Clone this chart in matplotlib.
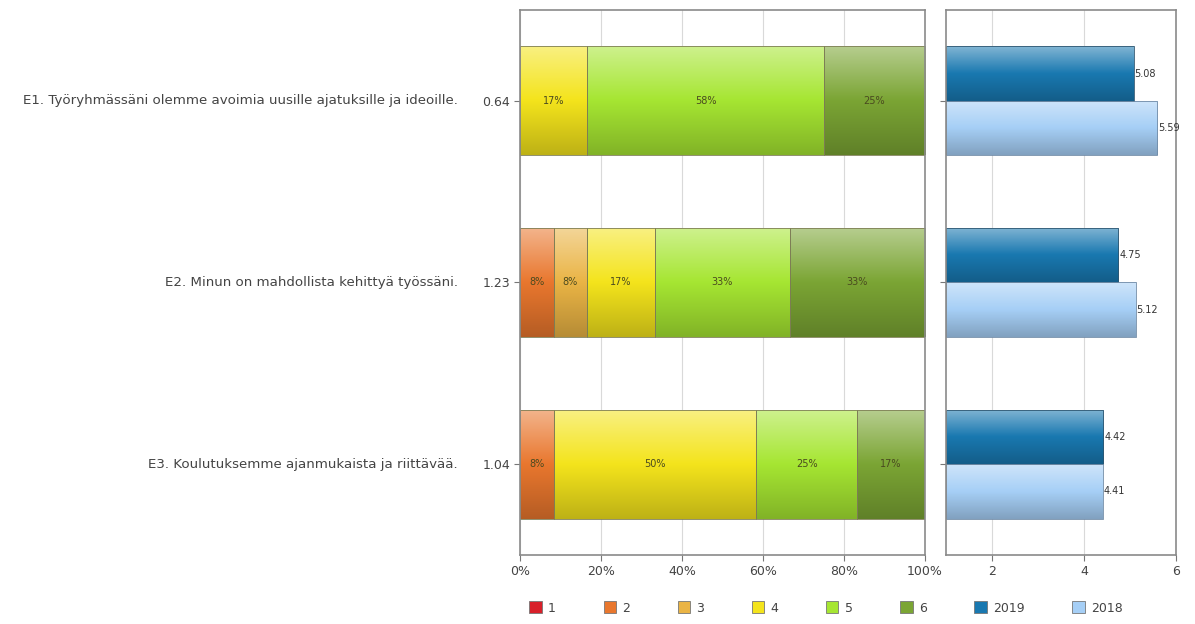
import numpy as np
import matplotlib
matplotlib.use("Agg")
import matplotlib.pyplot as plt
from matplotlib.colors import to_rgb
from matplotlib.patches import Patch
from matplotlib.transforms import blended_transform_factory

plt.rcParams["font.family"] = ["DejaVu Sans"]

# Survey questions and answer counts (12 respondents, scale 1..6)
questions = [
    "E1. Työryhmässäni olemme avoimia uusille ajatuksille ja ideoille.",
    "E2. Minun on mahdollista kehittyä työssäni.",
    "E3. Koulutuksemme ajanmukaista ja riittävää.",
]
std_labels = ["0.64", "1.23", "1.04"]
scale_labels = ["1", "2", "3", "4", "5", "6"]
counts_e1 = [0, 0, 0, 2, 7, 3]
counts_e2 = [0, 1, 1, 2, 4, 4]
counts_e3 = [0, 1, 0, 6, 3, 2]
mean_2019 = [5.08, 4.75, 4.42]
mean_2018 = [5.59, 5.12, 4.41]

scale_colors = ["#d8202a", "#e9772e", "#eab445", "#f4e41c", "#a6e632", "#7ba534"]
year_colors = {"2019": "#1978b0", "2018": "#a6cff6"}
text_gray = "#444444"


def gradient_fill(ax, bar, base, edge):
    # vertical gradient: light top, base in middle, darker bottom
    base = np.array(to_rgb(base))
    top = base + (1 - base) * 0.45
    bottom = base * 0.78
    t = np.linspace(0, 1, 64)[:, None]
    upper = top + (base - top) * np.clip(t * 2, 0, 1)
    lower = base + (bottom - base) * np.clip(t * 2 - 1, 0, 1)
    cols = np.where(t < 0.5, upper, lower)
    img = cols[:, None, :]
    xmin = ax.get_xlim()[0]
    x0 = max(bar.get_x(), xmin)
    x1 = bar.get_x() + bar.get_width()
    y0, h = bar.get_y(), bar.get_height()
    im = ax.imshow(img, extent=(x0, x1, y0 + h, y0), aspect="auto",
                   interpolation="bilinear", zorder=2.1)
    im.set_clip_path(bar)
    # thin outline on top of the gradient
    ax.barh(y0 + h / 2, x1 - x0, left=x0, height=h, fill=False,
            edgecolor=edge, linewidth=0.6, zorder=2.2)


fig = plt.figure(figsize=(11.95, 6.24), dpi=100)
ax = fig.add_axes([0.435, 0.1106, 0.339, 0.8734])
ax2 = fig.add_axes([0.7916, 0.1106, 0.1925, 0.8734])

y = np.arange(len(questions))
counts = np.array([counts_e1, counts_e2, counts_e3], dtype=float)
shares = counts / counts.sum(axis=1, keepdims=True) * 100

# --- stacked percentage bars ---
ax.set_xlim(0, 100)
left = np.zeros(len(questions))
for k in range(len(scale_labels)):
    bars = ax.barh(y, shares[:, k], left=left, height=0.6,
                   color=scale_colors[k], linewidth=0, zorder=2)
    for bar, val in zip(bars, shares[:, k]):
        if val <= 0:
            continue
        gradient_fill(ax, bar, scale_colors[k], "#7d7d55")
        ax.text(bar.get_x() + bar.get_width() / 2, bar.get_y() + bar.get_height() / 2,
                f"{val:.0f}%", ha="center", va="center", fontsize=7,
                color="#4a4a20", zorder=4)
    left += shares[:, k]

ax.set_xlim(0, 100)
ax.set_ylim(2.5, -0.5)
ax.set_xticks([0, 20, 40, 60, 80, 100])
ax.set_xticklabels(["0%", "20%", "40%", "60%", "80%", "100%"])
ax.set_yticks(y)
ax.set_yticklabels(std_labels)
ax.grid(axis="x", color="#d9d9d9", linewidth=0.8, zorder=0)
ax.set_axisbelow(True)
ax.tick_params(axis="both", colors="#777777", labelcolor=text_gray, labelsize=9,
               length=4, pad=3)

trans = blended_transform_factory(fig.transFigure, ax.transData)
for yi, q in zip(y, questions):
    ax.text(458 / 1195, yi, q, transform=trans, ha="right", va="center",
            fontsize=9.6, color=text_gray)

# --- yearly means ---
ax2.set_xlim(1, 6)
b19 = ax2.barh(y - 0.15, mean_2019, height=0.3, color=year_colors["2019"],
               linewidth=0, zorder=2)
b18 = ax2.barh(y + 0.15, mean_2018, height=0.3, color=year_colors["2018"],
               linewidth=0, zorder=2)
for bars, vals, key, edge in [(b19, mean_2019, "2019", "#2f5670"),
                              (b18, mean_2018, "2018", "#6f8aa6")]:
    for bar, v in zip(bars, vals):
        gradient_fill(ax2, bar, year_colors[key], edge)
        ax2.text(v + 0.02, bar.get_y() + bar.get_height() / 2, f"{v:.2f}",
                 ha="left", va="center", fontsize=7, color="#333333", zorder=4)

ax2.set_xlim(1, 6)
ax2.set_ylim(2.5, -0.5)
ax2.set_xticks([2, 4, 6])
ax2.set_yticks(y)
ax2.set_yticklabels([])
ax2.grid(axis="x", color="#d9d9d9", linewidth=0.8, zorder=0)
ax2.set_axisbelow(True)
ax2.tick_params(axis="both", colors="#777777", labelcolor=text_gray, labelsize=9,
                length=4, pad=3)

for a in (ax, ax2):
    for s in a.spines.values():
        s.set_color("#8a8a8a")
        s.set_linewidth(1.2)

# --- legend ---
handles = [Patch(facecolor=c, edgecolor="#777777", linewidth=0.6) for c in scale_colors]
handles += [Patch(facecolor=year_colors[k], edgecolor="#777777", linewidth=0.6)
            for k in ("2019", "2018")]
labels = scale_labels + ["2019", "2018"]
fig.legend(handles, labels, loc="center", bbox_to_anchor=(826 / 1195, 1 - 608 / 624),
           ncol=8, frameon=False, fontsize=9, handlelength=1.0, handleheight=1.1,
           handletextpad=0.5, columnspacing=3.8, labelcolor=text_gray)

fig.savefig("out.png", dpi=100, facecolor="white")
